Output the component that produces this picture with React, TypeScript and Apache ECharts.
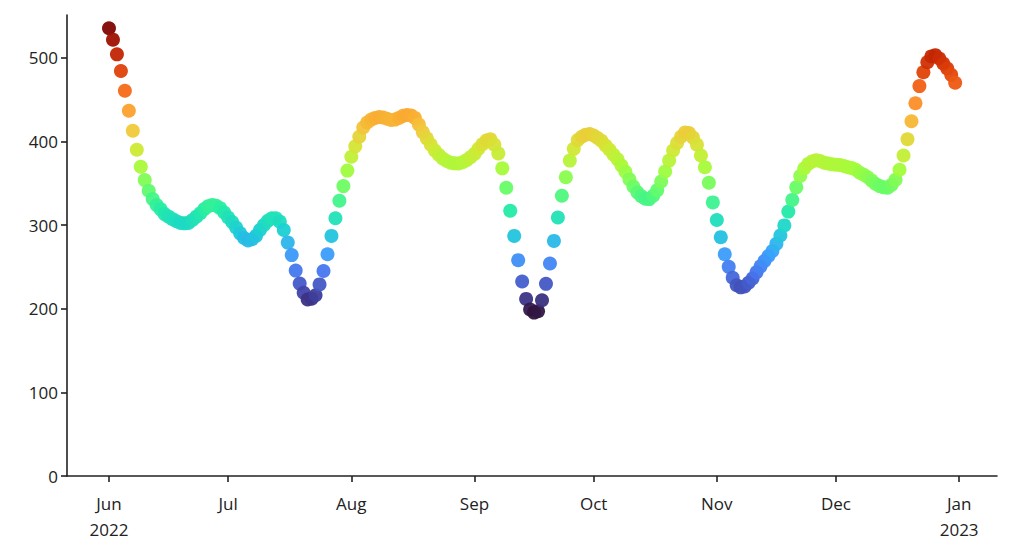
import React, { useEffect, useRef } from "react";
import * as echarts from "echarts";

const junValues = [535.2, 521.5, 504, 484, 460.5, 436.6, 412.7, 390, 369.6, 353.7, 341, 331, 323.8, 318.7, 313, 310, 307, 304.5, 302.5, 302, 302.5, 306, 310, 314, 319, 322.5, 324, 323, 320, 315];
const julValues = [309, 303.5, 297, 290, 284.5, 281.5, 283, 287, 294, 300, 305, 308, 308, 304, 294, 279, 264, 245.5, 230, 219, 211, 212, 216, 229, 245, 265, 287, 308, 329, 346.5, 365];
const augValues = [381.6, 394, 405.5, 416.5, 422.5, 426, 428, 429, 428.5, 427, 425.5, 426, 428, 430.5, 431.5, 431, 428, 420, 411, 403.5, 396, 389, 384, 379.5, 376.5, 374.5, 373.7, 373.5, 375, 377.5, 381];
const sepValues = [385, 391, 396.5, 401, 402.5, 396, 385.6, 367.7, 344.5, 317, 287, 258, 232.5, 211.7, 199, 195.3, 197, 210, 229.7, 254, 281, 309, 335, 357, 377, 391, 401.5, 405.5, 408, 408.7];
const octValues = [407, 404, 400.5, 395, 390, 384, 378.5, 371, 363.5, 354.5, 346, 339, 334.5, 331.5, 331, 335, 341.5, 352, 364, 377, 389, 398, 405.5, 410.5, 410, 404.5, 396, 383, 369, 350.5, 327];
const novValues = [306, 285.5, 265, 250, 237, 228, 225.5, 226.5, 231, 236, 243.5, 250.5, 257, 263, 269, 277.5, 287.5, 299.5, 316, 330, 345, 358.5, 367.5, 373, 376, 377.5, 376.5, 374.5, 373.5, 372.5];
const decValues = [372, 371.7, 370.5, 369, 368, 366, 362.5, 360, 357, 353, 349, 346.5, 345, 344.5, 348, 354, 366, 383, 402.5, 424, 445.5, 466, 482.5, 494.5, 501.5, 503, 499, 493, 487, 479.5, 470];

const monthSeries = [
  { year: 2022, month: 5, values: junValues },
  { year: 2022, month: 6, values: julValues },
  { year: 2022, month: 7, values: augValues },
  { year: 2022, month: 8, values: sepValues },
  { year: 2022, month: 9, values: octValues },
  { year: 2022, month: 10, values: novValues },
  { year: 2022, month: 11, values: decValues },
];

const tickLabels = ["Jun\n2022", "Jul", "Aug", "Sep", "Oct", "Nov", "Dec", "Jan\n2023"];
const tickMonths = [
  [2022, 5], [2022, 6], [2022, 7], [2022, 8], [2022, 9], [2022, 10], [2022, 11], [2023, 0],
];

const turbo = [
  "#30123b", "#4145ab", "#4675ed", "#39a2fc", "#1bcfd4", "#24eca6", "#61fc6c", "#a4fc3b",
  "#d1e834", "#f3c63a", "#fe9b2d", "#f36315", "#d93806", "#b11901", "#7a0403",
];

const DAY = 86400000;
const START = Date.UTC(2022, 5, 1);
const dayIndex = (y: number, m: number, d: number) => Math.round((Date.UTC(y, m, d) - START) / DAY);

export default function App() {
  const ref = useRef<HTMLDivElement>(null);
  useEffect(() => {
    if (!ref.current) return;
    const chart = echarts.init(ref.current, null, { renderer: "svg" });
    const data: [number, number][] = [];
    monthSeries.forEach((m) => {
      m.values.forEach((v, i) => {
        data.push([dayIndex(m.year, m.month, i + 1), v]);
      });
    });
    const ticks = tickMonths.map(([y, m]) => dayIndex(y, m, 1));
    const xMin = -10.57;
    const xMax = xMin + 234.1;
    const font = "'Open Sans', sans-serif";
    chart.setOption({
      animation: false,
      grid: { left: 67, right: 14, top: 15, bottom: 79 },
      visualMap: {
        show: false,
        type: "continuous",
        dimension: 1,
        min: 195,
        max: 538,
        inRange: { color: turbo },
      },
      xAxis: {
        type: "value",
        min: xMin,
        max: xMax,
        splitLine: { show: false },
        axisLine: { onZero: false, lineStyle: { color: "#222", width: 1.6 } },
        axisTick: { show: true, length: 6, lineStyle: { color: "#222", width: 1.6 }, customValues: ticks },
        axisLabel: {
          customValues: ticks,
          color: "#222",
          fontFamily: font,
          fontSize: 17,
          lineHeight: 26,
          margin: 14,
          formatter: (val: number) => {
            const i = ticks.indexOf(Math.round(val));
            return i >= 0 ? tickLabels[i] : "";
          },
        },
      },
      yAxis: {
        type: "value",
        min: 0,
        max: 551,
        interval: 100,
        splitLine: { show: false },
        axisLine: { show: true, onZero: false, lineStyle: { color: "#222", width: 1.6 } },
        axisTick: { show: true, length: 6, lineStyle: { color: "#222", width: 1.6 } },
        axisLabel: { color: "#222", fontFamily: font, fontSize: 17, margin: 9, showMaxLabel: false },
      },
      series: [
        {
          type: "scatter",
          data,
          symbolSize: 14,
          itemStyle: { opacity: 0.95 },
        },
      ],
    });
    return () => chart.dispose();
  }, []);
  return (
    <div
      ref={ref}
      style={{ position: "fixed", left: 0, top: 0, width: 1011, height: 555, background: "#fff" }}
    />
  );
}
